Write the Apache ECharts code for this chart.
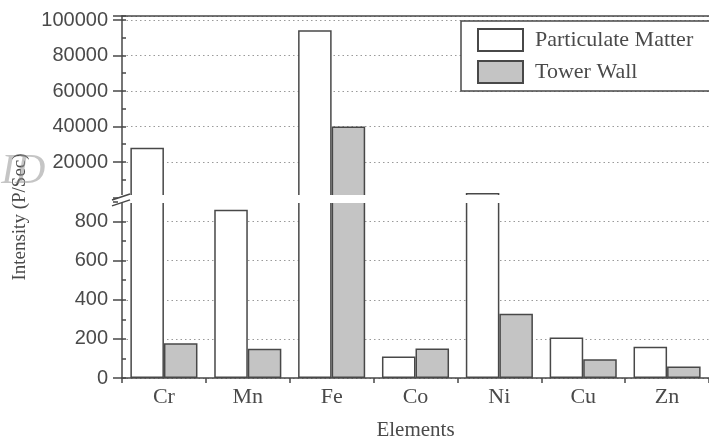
<!DOCTYPE html>
<html><head><meta charset="utf-8">
<script src="https://cdn.jsdelivr.net/npm/echarts@6/dist/echarts.min.js"></script>
<style>html,body{margin:0;padding:0;background:#fff}#c{width:709px;height:442px}</style>
</head><body><div id="c"></div><script>
const elements = ['Cr', 'Mn', 'Fe', 'Co', 'Ni', 'Cu', 'Zn'];
const particulateMatter = [28000, 860, 94200, 110, 2500, 207, 160];
const towerWall = [178, 150, 40000, 151, 328, 96, 59];
const lowerMax = 900;
const upperMax = 102250;
const upperInterval = 20000;
const lowerInterval = 200;

const SERIF = "'Liberation Serif','DejaVu Serif',serif";
const SANS = "'Liberation Sans',Arial,sans-serif";
const INK = '#4a4a4a';
const LINE = '#484848';

const upperOnly = arr => arr.map(v => v > lowerMax ? v : '-');

const chart = echarts.init(document.getElementById('c'));
const gridLine = {show: true, lineStyle: {color: '#9a9a9a', type: [1.5, 3], width: 1}};
const pmStyle = {color: '#ffffff', borderColor: LINE, borderWidth: 1.5};
const twStyle = {color: '#c4c4c4', borderColor: LINE, borderWidth: 1.5};

function mainY(grid, max, interval) {
  return {
    type: 'value', gridIndex: grid, min: 0, max: max, interval: interval, position: 'left',
    axisLine: {show: true, onZero: false, lineStyle: {color: LINE, width: 1.5}},
    axisTick: {show: true, length: 9, lineStyle: {color: LINE, width: 1.5}},
    minorTick: {show: false},
    axisLabel: {margin: 14, color: INK, fontFamily: SANS, fontSize: 20},
    splitLine: gridLine
  };
}
function innerY(grid, max, interval) {
  return {
    type: 'value', gridIndex: grid, min: 0, max: max, interval: interval, position: 'left',
    axisLine: {show: false},
    axisTick: {show: true, inside: true, length: 4, lineStyle: {color: LINE, width: 1.5}},
    minorTick: {show: true, splitNumber: 2, length: 4, lineStyle: {color: LINE, width: 1.5}},
    axisLabel: {show: false},
    splitLine: {show: false}
  };
}

const upperY0 = mainY(0, upperMax, upperInterval);
upperY0.axisLabel.formatter = v => (v % upperInterval === 0 && v > 0) ? String(v) : '';
const lowerY0 = mainY(1, lowerMax, lowerInterval);
lowerY0.axisLabel.formatter = v => (v % lowerInterval === 0) ? String(v) : '';

chart.setOption({
  animation: false,
  backgroundColor: '#fff',
  grid: [
    {left: 122, width: 590, top: 16, height: 181.5},
    {left: 122, width: 590, top: 202, height: 178}
  ],
  xAxis: [
    {type: 'category', gridIndex: 0, data: elements, position: 'top',
     axisLine: {show: true, onZero: false, lineStyle: {color: LINE, width: 1.5}},
     axisTick: {show: false}, axisLabel: {show: false}, splitLine: {show: false}},
    {type: 'category', gridIndex: 1, data: elements, position: 'bottom',
     axisLine: {show: true, onZero: false, lineStyle: {color: LINE, width: 1.5}},
     axisTick: {show: true, length: 5, lineStyle: {color: LINE, width: 1.5}},
     axisLabel: {color: INK, fontFamily: SERIF, fontSize: 22, margin: 8},
     name: 'Elements', nameLocation: 'middle', nameGap: 42,
     nameTextStyle: {color: INK, fontFamily: SERIF, fontSize: 21}}
  ],
  yAxis: [upperY0, innerY(0, upperMax, upperInterval), lowerY0, innerY(1, lowerMax, lowerInterval)],
  legend: {
    left: 461, top: 21, orient: 'vertical',
    data: ['Particulate Matter', 'Tower Wall'],
    icon: 'rect', itemWidth: 45, itemHeight: 22, itemGap: 8,
    padding: [7, 60, 7, 16],
    borderColor: LINE, borderWidth: 1.5, backgroundColor: '#fff',
    textStyle: {color: INK, fontFamily: SERIF, fontSize: 22, padding: [0, 0, 0, 7]}
  },
  series: [
    {name: 'Particulate Matter', type: 'bar', xAxisIndex: 0, yAxisIndex: 0,
     data: upperOnly(particulateMatter), barGap: '0%', barCategoryGap: '20%', itemStyle: pmStyle},
    {name: 'Tower Wall', type: 'bar', xAxisIndex: 0, yAxisIndex: 0,
     data: upperOnly(towerWall), barGap: '0%', barCategoryGap: '20%', itemStyle: twStyle},
    {name: 'Particulate Matter', type: 'bar', xAxisIndex: 1, yAxisIndex: 2,
     data: particulateMatter, barGap: '0%', barCategoryGap: '20%', itemStyle: pmStyle},
    {name: 'Tower Wall', type: 'bar', xAxisIndex: 1, yAxisIndex: 2,
     data: towerWall, barGap: '0%', barCategoryGap: '20%', itemStyle: twStyle}
  ]
});

const gridLeft = 122;
const yUpperBottom = chart.convertToPixel({yAxisIndex: 0}, 0);
const yLowerTop = chart.convertToPixel({yAxisIndex: 2}, lowerMax);
const bandTop = yUpperBottom - 2.5;
const bandBottom = yLowerTop + 0.9;
chart.setOption({
  graphic: [
    {type: 'rect', z: 100, shape: {x: gridLeft - 4, y: bandTop, width: 600, height: bandBottom - bandTop},
     style: {fill: '#fff'}},
    {type: 'line', z: 101, shape: {x1: gridLeft - 10, y1: bandTop + 5, x2: gridLeft + 8, y2: bandTop - 1},
     style: {stroke: LINE, lineWidth: 1.5}},
    {type: 'line', z: 101, shape: {x1: gridLeft - 10, y1: bandBottom + 3, x2: gridLeft + 8, y2: bandBottom - 3},
     style: {stroke: LINE, lineWidth: 1.5}},
    {type: 'text', z: 102, x: 20, y: 217, rotation: Math.PI / 2,
     style: {text: 'Intensity (P/Sec)', fill: INK, font: '19px ' + SERIF, align: 'center', verticalAlign: 'middle'}},
    {type: 'text', z: 103, x: 1, y: 151,
     style: {text: 'ID', fill: 'rgba(150,150,150,0.55)', font: 'italic 42px ' + SERIF}}
  ]
});
</script></body></html>
